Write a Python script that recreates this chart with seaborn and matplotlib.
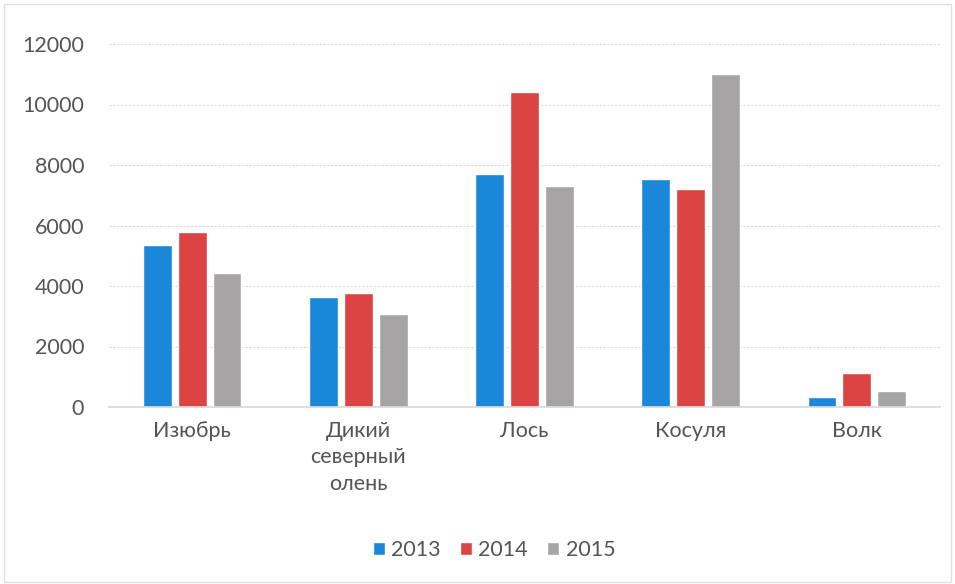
import numpy as np
import pandas as pd
import seaborn as sns
import matplotlib
matplotlib.use('Agg')
import matplotlib.pyplot as plt
from matplotlib.patches import Rectangle

# data
species = ['Изюбрь', 'Дикий\nсеверный\nолень', 'Лось', 'Косуля', 'Волк']
years = ['2013', '2014', '2015']
v2013 = [5350, 3650, 7700, 7540, 330]
v2014 = [5780, 3760, 10400, 7210, 1130]
v2015 = [4440, 3070, 7310, 11000, 530]
colors = ['#1a87d8', '#dc4444', '#a7a4a5']

df = pd.DataFrame({
    'species': species * 3,
    'year': sum([[y] * len(species) for y in years], []),
    'value': v2013 + v2014 + v2015,
})

sns.set_theme(style='white')
plt.rcParams['font.family'] = ['Lato', 'DejaVu Sans']
txt = '#555555'

fig = plt.figure(figsize=(9.55, 5.84), dpi=100)
ax = fig.add_axes([109 / 955, 1 - 407 / 584, 831 / 955, 363 / 584])

sns.barplot(data=df, x='species', y='value', hue='year', palette=colors,
            width=0.63, gap=0.17, saturation=1, ax=ax, legend=True)

ax.set_ylim(0, 12000)
ax.set_yticks(np.arange(0, 12001, 2000))
ax.set_xlim(-0.5, len(species) - 0.5)
ax.set_xlabel('')
ax.set_ylabel('')
ax.yaxis.grid(True, color='#d9d9d9', linestyle=(0, (2, 1.5)), linewidth=0.8)
ax.set_axisbelow(True)
for s in ['top', 'right', 'left']:
    ax.spines[s].set_visible(False)
ax.spines['bottom'].set_color('#d9d9d9')
ax.tick_params(axis='both', length=0, labelsize=15.5, colors=txt)
ax.tick_params(axis='y', pad=18)
ax.tick_params(axis='x', pad=10)
for lbl in ax.get_xticklabels():
    lbl.set_linespacing(1.4)
    lbl.set_verticalalignment('top')

ax.legend(loc='center', bbox_to_anchor=(494 / 955, 1 - 550 / 584),
          bbox_transform=fig.transFigure, ncol=3, frameon=False,
          fontsize=15.5, handlelength=0.55, handleheight=0.55,
          handletextpad=0.3, columnspacing=0.9, labelcolor=txt)

# faint chart frame
fig.patches.append(Rectangle((0.004, 0.004), 0.992, 0.99, transform=fig.transFigure,
                             fill=False, edgecolor='#e0e0e0', linewidth=1))

fig.savefig('out.png', dpi=100)
